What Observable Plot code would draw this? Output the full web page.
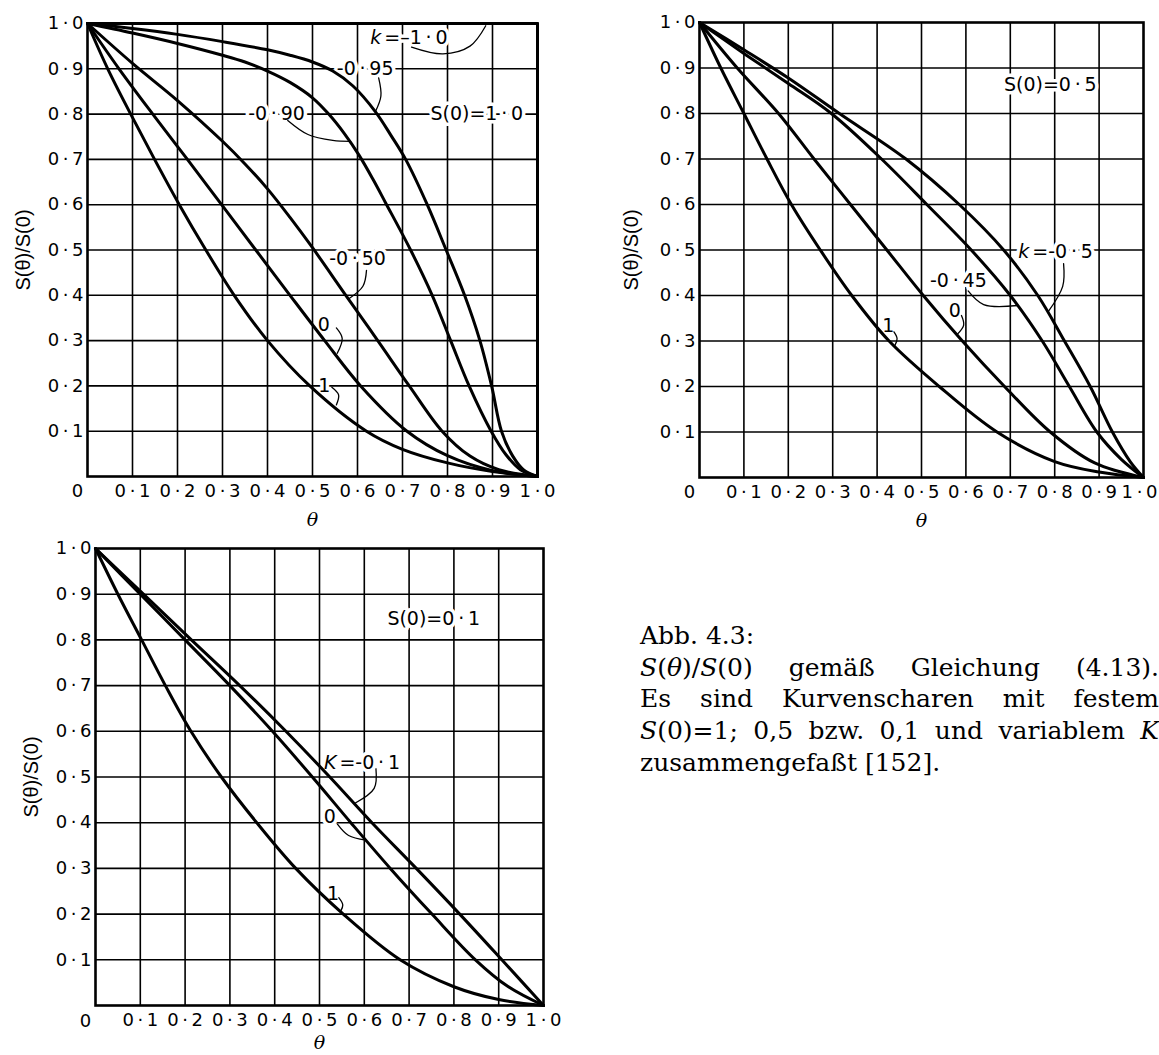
<!DOCTYPE html>
<html>
<head>
<meta charset="utf-8">
<script src="https://cdn.jsdelivr.net/npm/d3@7"></script>
<script src="https://cdn.jsdelivr.net/npm/@observablehq/plot@0.6"></script>
<style>
html,body{margin:0;padding:0;background:#fff;}
#wrap{position:relative;width:1159px;height:1055px;overflow:hidden;background:#fff;}
.panel{position:absolute;}
#caption{position:absolute;left:640px;top:620px;width:519px;font-family:"DejaVu Serif",serif;font-size:25px;line-height:31.7px;color:#000;}
#caption .j{text-align:justify;text-align-last:justify;}
</style>
</head>
<body>
<div id="wrap">
  <div class="panel" id="p1" style="left:0px;top:0px;width:570px;height:535px;"></div>
  <div class="panel" id="p2" style="left:585px;top:0px;width:574px;height:535px;"></div>
  <div class="panel" id="p3" style="left:0px;top:520px;width:580px;height:535px;"></div>
  <div id="caption">
    <div>Abb. 4.3:</div>
    <div class="j"><i>S</i>(<i>θ</i>)/<i>S</i>(0) gemäß Gleichung (4.13).</div>
    <div class="j">Es sind Kurvenscharen mit festem</div>
    <div class="j"><i>S</i>(0)=1; 0,5 bzw. 0,1 und variablem <i>K</i></div>
    <div>zusammengefaßt [152].</div>
  </div>
</div>
<script>
// ---------- ticks ----------
const xTickVals = [0.1, 0.2, 0.3, 0.4, 0.5, 0.6, 0.7, 0.8, 0.9];
const xLastTick = [1.0];
const yTickVals = [0.1, 0.2, 0.3, 0.4, 0.5, 0.6, 0.7, 0.8, 0.9, 1.0];
const gridVals = [0.1, 0.2, 0.3, 0.4, 0.5, 0.6, 0.7, 0.8, 0.9];

// ---------- panel 1 : S(0) = 1.0 ----------
const p1_km100_t = [0, 1, 1];
const p1_km100_s = [1, 1, 0];
const p1_km095_t = [0, 0.1, 0.2, 0.3, 0.4, 0.45, 0.5, 0.545, 0.59, 0.64, 0.675, 0.707, 0.755, 0.797, 0.838, 0.872, 0.898, 0.92, 0.945, 0.97, 1];
const p1_km095_s = [1, 0.989, 0.976, 0.96, 0.942, 0.93, 0.915, 0.895, 0.862, 0.805, 0.752, 0.7, 0.6, 0.5, 0.4, 0.3, 0.2, 0.1, 0.045, 0.014, 0];
const p1_km090_t = [0, 0.1, 0.2, 0.3, 0.35, 0.4, 0.45, 0.5, 0.536, 0.57, 0.603, 0.635, 0.662, 0.718, 0.766, 0.807, 0.848, 0.897, 0.93, 0.962, 1];
const p1_km090_s = [1, 0.979, 0.956, 0.93, 0.915, 0.895, 0.87, 0.836, 0.8, 0.758, 0.71, 0.655, 0.605, 0.5, 0.4, 0.3, 0.2, 0.1, 0.048, 0.015, 0];
const p1_km050_t = [0, 0.1, 0.2, 0.3, 0.35, 0.4, 0.45, 0.5, 0.574, 0.645, 0.715, 0.788, 0.85, 0.914, 1];
const p1_km050_s = [1, 0.912, 0.83, 0.74, 0.69, 0.635, 0.572, 0.505, 0.4, 0.3, 0.2, 0.1, 0.045, 0.015, 0];
const p1_k0_t = [0, 0.07, 0.145, 0.222, 0.298, 0.374, 0.45, 0.527, 0.607, 0.71, 0.8, 0.9, 1];
const p1_k0_s = [1, 0.9, 0.8, 0.7, 0.6, 0.5, 0.4, 0.3, 0.2, 0.1, 0.046, 0.013, 0];
const p1_k1_t = [0, 0.045, 0.096, 0.149, 0.204, 0.263, 0.326, 0.4, 0.494, 0.62, 0.7, 0.8, 0.9, 1];
const p1_k1_s = [1, 0.9, 0.8, 0.7, 0.6, 0.5, 0.4, 0.3, 0.2, 0.1, 0.06, 0.03, 0.011, 0];
const p1_labels = [
  {text: "-0·95", t: 0.617, s: 0.9},
  {text: "-0·90", t: 0.42, s: 0.8},
  {text: "S(0)=1·0", t: 0.865, s: 0.8},
  {text: "-0·50", t: 0.6, s: 0.48},
  {text: "0", t: 0.525, s: 0.334},
  {text: "1", t: 0.526, s: 0.2}
];
const p1_kLabels = [{ital: "k", rest: "=–1·0", t: 0.655, s: 0.968}];
const p1_lead_a_t = [0.72, 0.79, 0.85, 0.885];
const p1_lead_a_s = [0.948, 0.933, 0.95, 0.995];
const p1_lead_b_t = [0.647, 0.652, 0.64];
const p1_lead_b_s = [0.88, 0.84, 0.806];
const p1_lead_c_t = [0.445, 0.49, 0.545, 0.585];
const p1_lead_c_s = [0.786, 0.755, 0.742, 0.74];
const p1_lead_d_t = [0.62, 0.612, 0.58];
const p1_lead_d_s = [0.455, 0.42, 0.392];
const p1_lead_e_t = [0.553, 0.566, 0.555];
const p1_lead_e_s = [0.328, 0.305, 0.272];
const p1_lead_f_t = [0.543, 0.558, 0.553];
const p1_lead_f_s = [0.197, 0.18, 0.158];

// ---------- panel 2 : S(0) = 0.5 ----------
const p2_km050_t = [0, 0.1, 0.2, 0.315, 0.465, 0.585, 0.685, 0.762, 0.822, 0.88, 0.93, 0.97, 1];
const p2_km050_s = [1, 0.94, 0.878, 0.8, 0.7, 0.6, 0.5, 0.4, 0.3, 0.2, 0.1, 0.035, 0];
const p2_km045_t = [0, 0.1, 0.2, 0.297, 0.41, 0.512, 0.612, 0.7, 0.772, 0.833, 0.895, 0.95, 1];
const p2_km045_s = [1, 0.932, 0.866, 0.8, 0.7, 0.6, 0.5, 0.4, 0.3, 0.2, 0.1, 0.04, 0];
const p2_k0_t = [0, 0.085, 0.178, 0.258, 0.34, 0.422, 0.504, 0.592, 0.687, 0.79, 0.89, 1];
const p2_k0_s = [1, 0.9, 0.8, 0.7, 0.6, 0.5, 0.4, 0.3, 0.2, 0.1, 0.032, 0];
const p2_k1_t = [0, 0.048, 0.1, 0.152, 0.207, 0.272, 0.343, 0.427, 0.54, 0.67, 0.8, 0.9, 1];
const p2_k1_s = [1, 0.9, 0.8, 0.7, 0.6, 0.5, 0.4, 0.3, 0.2, 0.1, 0.035, 0.012, 0];
const p2_labels = [
  {text: "S(0)=0·5", t: 0.79, s: 0.862},
  {text: "-0·45", t: 0.583, s: 0.433},
  {text: "0", t: 0.575, s: 0.367},
  {text: "1", t: 0.425, s: 0.334}
];
const p2_kLabels = [{ital: "k", rest: "=-0·5", t: 0.745, s: 0.495}];
const p2_lead_a_t = [0.82, 0.818, 0.785];
const p2_lead_a_s = [0.47, 0.42, 0.364];
const p2_lead_b_t = [0.605, 0.64, 0.716];
const p2_lead_b_s = [0.41, 0.38, 0.378];
const p2_lead_c_t = [0.59, 0.595, 0.58];
const p2_lead_c_s = [0.356, 0.335, 0.314];
const p2_lead_d_t = [0.438, 0.445, 0.44];
const p2_lead_d_s = [0.32, 0.305, 0.29];

// ---------- panel 3 : S(0) = 0.1 ----------
const p3_km010_t = [0, 0.107, 0.214, 0.322, 0.425, 0.523, 0.617, 0.716, 0.813, 0.907, 1];
const p3_km010_s = [1, 0.9, 0.8, 0.7, 0.6, 0.5, 0.4, 0.3, 0.2, 0.1, 0];
const p3_k0_t = [0, 0.1, 0.2, 0.3, 0.395, 0.484, 0.57, 0.658, 0.751, 0.848, 0.92, 1];
const p3_k0_s = [1, 0.9, 0.8, 0.7, 0.6, 0.5, 0.4, 0.3, 0.2, 0.1, 0.042, 0];
const p3_k1_t = [0, 0.05, 0.103, 0.156, 0.213, 0.281, 0.36, 0.447, 0.553, 0.68, 0.8, 0.9, 1];
const p3_k1_s = [1, 0.9, 0.8, 0.7, 0.6, 0.5, 0.4, 0.3, 0.2, 0.1, 0.041, 0.013, 0];
const p3_labels = [
  {text: "S(0)=0·1", t: 0.755, s: 0.847},
  {text: "0", t: 0.523, s: 0.413},
  {text: "1", t: 0.53, s: 0.245}
];
const p3_kLabels = [{ital: "K", rest: "=-0·1", t: 0.54, s: 0.53}];
const p3_lead_a_t = [0.626, 0.622, 0.58];
const p3_lead_a_s = [0.518, 0.475, 0.443];
const p3_lead_b_t = [0.54, 0.565, 0.603];
const p3_lead_b_s = [0.397, 0.372, 0.362];
const p3_lead_c_t = [0.543, 0.552, 0.547];
const p3_lead_c_s = [0.236, 0.22, 0.206];

// ---------- helpers ----------
const DOT = "\u2009·\u2009";
const fmt = d => d === 0 ? "0" : d.toFixed(1).replace(".", DOT);
const dotify = s => s.replace("·", DOT);
function rowsFrom(list) {
  return list.flatMap(c => c.t.map((t, i) => ({id: c.id, t, s: c.s[i]})));
}
const halo = {fill: "#000", stroke: "#fff", strokeWidth: 7, paintOrder: "stroke", fontSize: 19};

function panel(cfg) {
  return Plot.plot({
    width: cfg.width, height: cfg.height,
    marginLeft: cfg.ml, marginRight: cfg.mr, marginTop: cfg.mt, marginBottom: cfg.mb,
    style: {background: "transparent", color: "#000", fontFamily: "'DejaVu Sans', sans-serif", fontSize: "18px", overflow: "visible"},
    x: {domain: [0, 1]},
    y: {domain: [0, 1]},
    marks: [
      Plot.gridX(gridVals, {stroke: "#000", strokeOpacity: 1, strokeWidth: 1.6}),
      Plot.gridY(gridVals, {stroke: "#000", strokeOpacity: 1, strokeWidth: 1.6}),
      Plot.text(cfg.labels, {x: "t", y: "s", text: d => dotify(d.text), ...halo}),
      Plot.text(cfg.kLabels, {x: "t", y: "s", text: d => d.ital, textAnchor: "end", dx: -1, fontStyle: "italic", ...halo}),
      Plot.text(cfg.kLabels, {x: "t", y: "s", text: d => dotify(d.rest), textAnchor: "start", dx: 2, ...halo}),
      Plot.frame({stroke: "#000", strokeWidth: 2.6}),
      Plot.line(rowsFrom(cfg.straight), {x: "t", y: "s", z: "id", curve: "linear", stroke: "#000", strokeWidth: 3}),
      Plot.line(rowsFrom(cfg.curves), {x: "t", y: "s", z: "id", curve: "catmull-rom", stroke: "#000", strokeWidth: 3, strokeLinejoin: "round"}),
      Plot.line(rowsFrom(cfg.leaders), {x: "t", y: "s", z: "id", curve: "catmull-rom", stroke: "#000", strokeWidth: 1.3}),
      Plot.axisX({ticks: xTickVals, tickFormat: fmt, tickSize: 0, tickPadding: 8, label: null, fontSize: 18}),
      Plot.axisX({ticks: xLastTick, tickFormat: fmt, tickSize: 0, tickPadding: 8, label: null, fontSize: 18, dx: cfg.lastDx}),
      Plot.text([0], {x: d => d, y: () => 0, text: () => "0", dx: -10, dy: cfg.zeroDy, fontSize: 18}),
      Plot.axisY({ticks: yTickVals, tickFormat: fmt, tickSize: 0, tickPadding: 4, label: null, fontSize: 18}),
      Plot.text(["θ"], {text: d => d, frameAnchor: "bottom", lineAnchor: "middle", textAnchor: "middle", dy: cfg.thetaDy, fontStyle: "italic", fontFamily: "'DejaVu Serif', serif", fontSize: 19}),
      Plot.text(["S(θ)/S(0)"], {text: d => d, frameAnchor: "left", textAnchor: "middle", lineAnchor: "middle", rotate: -90, dx: cfg.ylabDx, fontFamily: "'Liberation Sans', Arial, sans-serif", fontSize: 20})
    ]
  });
}

document.getElementById("p1").appendChild(panel({
  width: 570, height: 535, ml: 87, mr: 33, mt: 23, mb: 59,
  zeroDy: 15, thetaDy: 43, ylabDx: -64, lastDx: 0,
  straight: [{id: "k=-1.0", t: p1_km100_t, s: p1_km100_s}],
  curves: [
    {id: "k=-0.95", t: p1_km095_t, s: p1_km095_s},
    {id: "k=-0.90", t: p1_km090_t, s: p1_km090_s},
    {id: "k=-0.50", t: p1_km050_t, s: p1_km050_s},
    {id: "k=0", t: p1_k0_t, s: p1_k0_s},
    {id: "k=1", t: p1_k1_t, s: p1_k1_s}
  ],
  labels: p1_labels, kLabels: p1_kLabels,
  leaders: [
    {id: "a", t: p1_lead_a_t, s: p1_lead_a_s},
    {id: "b", t: p1_lead_b_t, s: p1_lead_b_s},
    {id: "c", t: p1_lead_c_t, s: p1_lead_c_s},
    {id: "d", t: p1_lead_d_t, s: p1_lead_d_s},
    {id: "e", t: p1_lead_e_t, s: p1_lead_e_s},
    {id: "f", t: p1_lead_f_t, s: p1_lead_f_s}
  ]
}));

document.getElementById("p2").appendChild(panel({
  width: 574, height: 535, ml: 114, mr: 16, mt: 22, mb: 58,
  zeroDy: 15, thetaDy: 43, ylabDx: -68, lastDx: -4,
  straight: [],
  curves: [
    {id: "k=-0.5", t: p2_km050_t, s: p2_km050_s},
    {id: "k=-0.45", t: p2_km045_t, s: p2_km045_s},
    {id: "k=0", t: p2_k0_t, s: p2_k0_s},
    {id: "k=1", t: p2_k1_t, s: p2_k1_s}
  ],
  labels: p2_labels, kLabels: p2_kLabels,
  leaders: [
    {id: "a", t: p2_lead_a_t, s: p2_lead_a_s},
    {id: "b", t: p2_lead_b_t, s: p2_lead_b_s},
    {id: "c", t: p2_lead_c_t, s: p2_lead_c_s},
    {id: "d", t: p2_lead_d_t, s: p2_lead_d_s}
  ]
}));

document.getElementById("p3").appendChild(panel({
  width: 580, height: 535, ml: 95, mr: 37, mt: 28, mb: 50,
  zeroDy: 16, thetaDy: 37, ylabDx: -64, lastDx: 0,
  straight: [],
  curves: [
    {id: "K=-0.1", t: p3_km010_t, s: p3_km010_s},
    {id: "K=0", t: p3_k0_t, s: p3_k0_s},
    {id: "K=1", t: p3_k1_t, s: p3_k1_s}
  ],
  labels: p3_labels, kLabels: p3_kLabels,
  leaders: [
    {id: "a", t: p3_lead_a_t, s: p3_lead_a_s},
    {id: "b", t: p3_lead_b_t, s: p3_lead_b_s},
    {id: "c", t: p3_lead_c_t, s: p3_lead_c_s}
  ]
}));
</script>
</body>
</html>
